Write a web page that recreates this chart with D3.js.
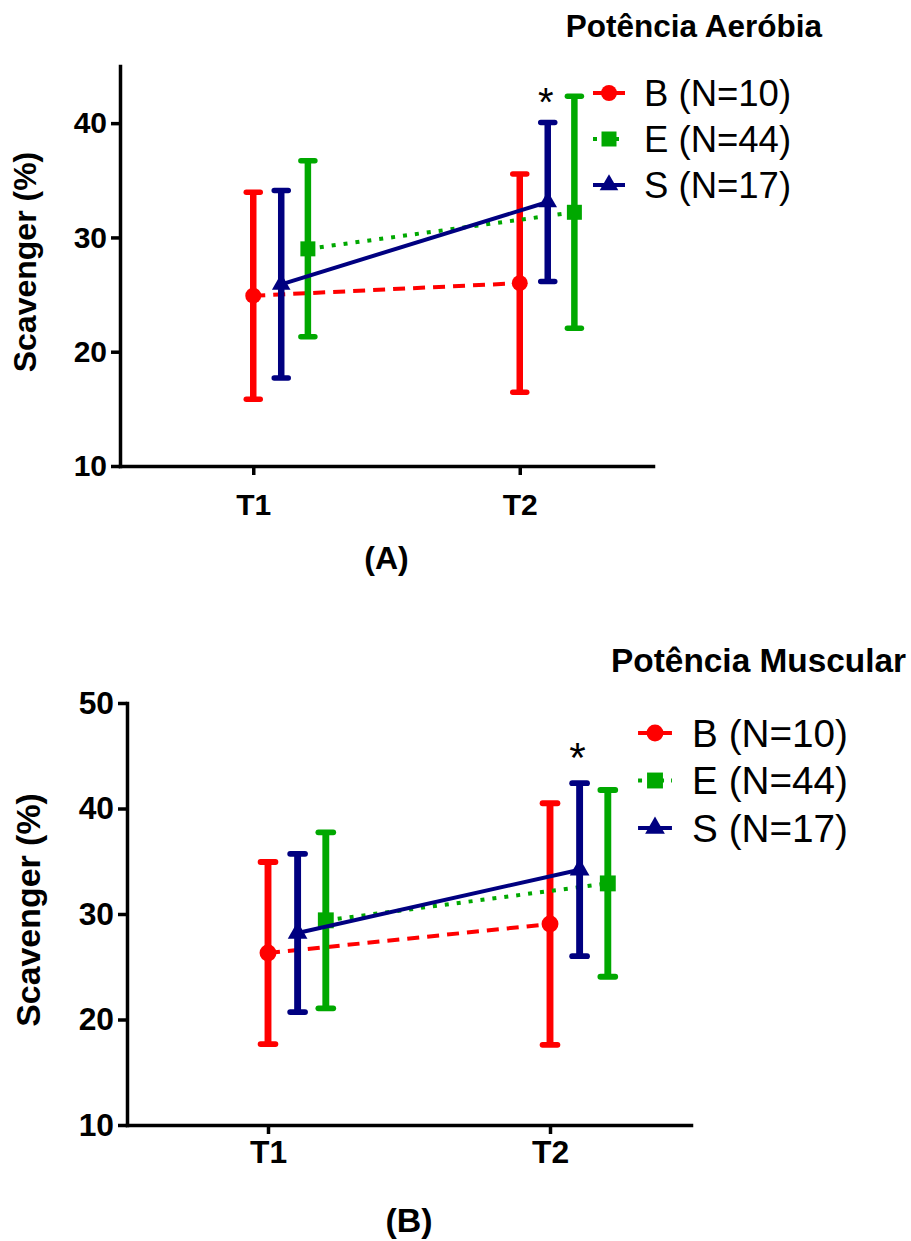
<!DOCTYPE html>
<html>
<head>
<meta charset="utf-8">
<script src="https://cdn.jsdelivr.net/npm/d3@7"></script>
<style>
  body { margin: 0; background: #fff; }
  text { font-family: Arial, "Liberation Sans", sans-serif; }
</style>
</head>
<body>
<script>
// data
const categories = ["T1", "T2"]
const groups = ["B (N=10)", "E (N=44)", "S (N=17)"]
const colors = ["#ff0000", "#00a800", "#000080"]

// Potência Aeróbia (A): mean and SD per group, T1/T2
const aerMeans = [[24.9, 26.0], [29.0, 32.2], [25.9, 33.1]]
const aerSDs = [[9.05, 9.55], [7.7, 10.15], [8.2, 6.95]]
const aerTicks = [10, 20, 30, 40]

// Potência Muscular (B)
const musMeans = [[26.3, 29.05], [29.4, 32.9], [28.2, 34.2]]
const musSDs = [[8.63, 11.45], [8.34, 8.85], [7.5, 8.2]]
const musTicks = [10, 20, 30, 40, 50]

const w = 911, h = 1241
const svg = d3.select("body").append("svg").attr("width", w).attr("height", h)

// horizontal offset of each group around the time point (B, E, S)
const offsets = [0, 0.205, 0.105]
const dashes = ["12,8", "4,8", null]
const symbols = [d3.symbolCircle, d3.symbolSquare, d3.symbolTriangle]
const symSizes = [200, 225, 150]

function drawPanel(cfg) {
  const k = cfg.k
  const g = svg.append("g")
  const x = d3.scaleLinear().domain([0.5, 2.5]).range([cfg.x0, cfg.x1])
  const y = d3.scaleLinear().domain(cfg.yDomain).range([cfg.yBottom, cfg.yTop])

  const yAxis = d3.axisLeft(y)
    .tickValues(cfg.ticks)
    .tickFormat(d3.format("d"))
    .tickSize(9)
    .tickSizeOuter(0)
    .tickPadding(4)
  const ya = g.append("g")
    .attr("transform", "translate(" + cfg.x0 + ",0)")
    .call(yAxis)

  const xAxis = d3.axisBottom(x)
    .tickValues([1, 2])
    .tickFormat((d, i) => categories[i])
    .tickSize(9)
    .tickSizeOuter(0)
    .tickPadding(cfg.xPad)
  const xa = g.append("g")
    .attr("transform", "translate(0," + cfg.yBottom + ")")
    .call(xAxis)

  ;[ya, xa].forEach(a => {
    a.select(".domain").attr("stroke-width", 3.5).attr("stroke-linecap", "square")
    a.selectAll(".tick line").attr("stroke-width", 3.5)
    a.selectAll(".tick text")
      .style("font-size", (30 * k) + "px")
      .style("font-weight", "bold")
      .attr("fill", "#000")
  })

  // y axis title
  g.append("text")
    .attr("transform", "translate(" + cfg.yLabX + "," + ((cfg.yTop + cfg.yBottom) / 2 - 4) + ") rotate(-90)")
    .attr("text-anchor", "middle")
    .style("font-size", (32 * k) + "px")
    .style("font-weight", "bold")
    .text("Scavenger (%)")

  // series
  groups.forEach((name, gi) => {
    const pts = categories.map((c, i) => ({
      xv: i + 1 + offsets[gi],
      m: cfg.means[gi][i],
      sd: cfg.sds[gi][i]
    }))
    const line = d3.line().x(d => x(d.xv)).y(d => y(d.m))
    g.append("path")
      .datum(pts)
      .attr("d", line)
      .attr("fill", "none")
      .attr("stroke", colors[gi])
      .attr("stroke-width", 4)
      .attr("stroke-dasharray", dashes[gi])

    const bars = g.selectAll(null).data(pts).enter().append("g")
    bars.append("line")
      .attr("x1", d => x(d.xv)).attr("x2", d => x(d.xv))
      .attr("y1", d => y(d.m - d.sd)).attr("y2", d => y(d.m + d.sd))
      .attr("stroke", colors[gi]).attr("stroke-width", 6.5 * k)
    ;[-1, 1].forEach(s => {
      bars.append("line")
        .attr("x1", d => x(d.xv) - 7 * k).attr("x2", d => x(d.xv) + 7 * k)
        .attr("y1", d => y(d.m + s * d.sd)).attr("y2", d => y(d.m + s * d.sd))
        .attr("stroke", colors[gi]).attr("stroke-width", 5.5 * k)
        .attr("stroke-linecap", "round")
    })
    g.selectAll(null).data(pts).enter().append("path")
      .attr("transform", d => "translate(" + x(d.xv) + "," + y(d.m) + ")")
      .attr("d", d3.symbol().type(symbols[gi]).size(symSizes[gi] * k * k))
      .attr("fill", colors[gi])
  })

  // significance mark over S at T2
  g.append("text")
    .attr("x", x(2 + offsets[2]) - 2)
    .attr("y", cfg.starY)
    .attr("text-anchor", "middle")
    .style("font-size", (40 * k) + "px")
    .text("*")

  // title
  g.append("text")
    .attr("x", cfg.titleX).attr("y", cfg.titleY)
    .attr("text-anchor", "end")
    .style("font-size", (31.5 * k) + "px")
    .style("font-weight", "bold")
    .text(cfg.title)

  // legend
  groups.forEach((name, gi) => {
    const ly = cfg.legY + gi * cfg.legStep
    const lg = g.append("g")
    lg.append("line")
      .attr("x1", cfg.legX - 16 * k).attr("x2", cfg.legX + 16 * k)
      .attr("y1", ly).attr("y2", ly)
      .attr("stroke", colors[gi]).attr("stroke-width", 4)
      .attr("stroke-dasharray", gi == 1 ? "4,7" : null)
    lg.append("path")
      .attr("transform", "translate(" + cfg.legX + "," + ly + ")")
      .attr("d", d3.symbol().type(symbols[gi]).size(symSizes[gi] * k * k))
      .attr("fill", colors[gi])
    lg.append("text")
      .attr("x", cfg.legX + 35 * k)
      .attr("y", ly + 13 * k)
      .style("font-size", (36.5 * k) + "px")
      .text(name)
  })

  // panel letter
  g.append("text")
    .attr("x", x(1.5)).attr("y", cfg.letterY)
    .attr("text-anchor", "middle")
    .style("font-size", (32 * k) + "px")
    .style("font-weight", "bold")
    .text(cfg.letter)
}

drawPanel({
  k: 1, x0: 120, x1: 653, yTop: 66, yBottom: 466, yDomain: [10, 45],
  ticks: aerTicks, means: aerMeans, sds: aerSDs, xPad: 19,
  yLabX: 36, starY: 116, title: "Potência Aeróbia", titleX: 822, titleY: 37,
  legX: 609, legY: 93, legStep: 46, letter: "(A)", letterY: 569
})

drawPanel({
  k: 1.06, x0: 127, x1: 691, yTop: 703, yBottom: 1125, yDomain: [10, 50],
  ticks: musTicks, means: musMeans, sds: musSDs, xPad: 6,
  yLabX: 40, starY: 772, title: "Potência Muscular", titleX: 906, titleY: 672,
  legX: 655, legY: 733, legStep: 47.5, letter: "(B)", letterY: 1232
})
</script>
</body>
</html>
